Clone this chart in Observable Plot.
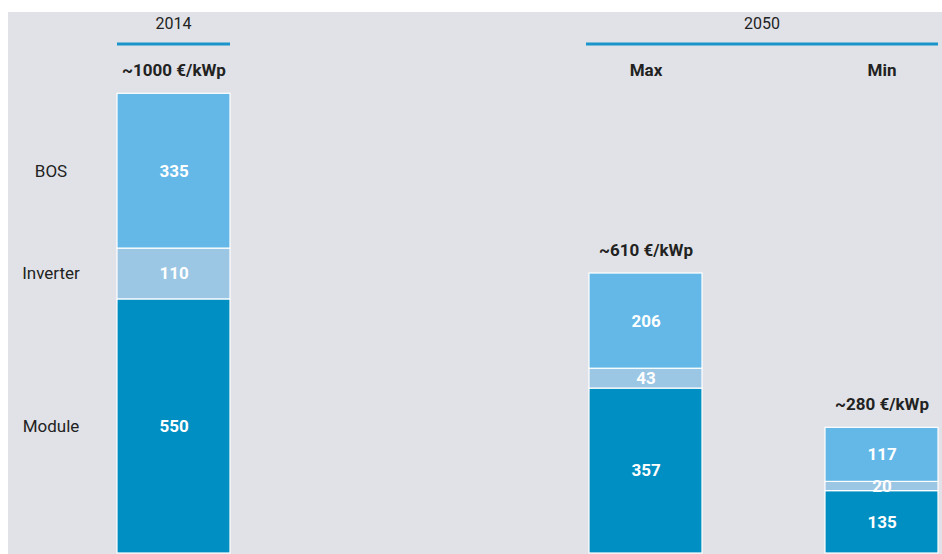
<!DOCTYPE html>
<html><head><meta charset="utf-8">
<script src="https://cdn.jsdelivr.net/npm/d3@7"></script>
<script src="https://cdn.jsdelivr.net/npm/@observablehq/plot@0.6"></script>
<style>
html,body{margin:0;padding:0;background:#fff;}
#chart{position:absolute;left:8px;top:12px;}
</style></head><body><div id="chart"></div>
<script>
const categories = ["2014", "", "Max", "Min"];
const barCategories = ["2014", "Max", "Min"];
const components = ["Module", "Inverter", "BOS"];
const moduleCost = [550, 357, 135];
const inverterCost = [110, 43, 20];
const bosCost = [335, 206, 117];
const totalLabels = ["~1000 €/kWp", "~610 €/kWp", "~280 €/kWp"];
const groupLabels = ["2014", "2050"];
const groupFrom = ["2014", "Max"];
const groupTo = ["2014", "Min"];
const subLabels = ["Max", "Min"];
const colors = ["#008fc3", "#9bc6e4", "#63b8e8"];

const series = [moduleCost, inverterCost, bosCost];
const data = barCategories.flatMap((cat, i) =>
  components.map((comp, j) => ({cat, comp, value: series[j][i]})));
const totals = barCategories.map((cat, i) => ({
  cat, total: moduleCost[i] + inverterCost[i] + bosCost[i], label: totalLabels[i]}));
const groups = groupLabels.map((label, i) => ({label, from: groupFrom[i], to: groupTo[i]}));
const subs = subLabels.map(cat => ({cat}));

const font = "Roboto, 'Open Sans', sans-serif";

const headerMark = (index, scales, values, dimensions) => {
  const x = scales.x, bw = x.bandwidth();
  const g = d3.create("svg:g");
  for (const h of groups) {
    const x1 = x(h.from) - (h.from === h.to ? 0 : 3), x2 = x(h.to) + bw;
    g.append("line").attr("x1", x1).attr("x2", x2).attr("y1", 32).attr("y2", 32)
      .attr("stroke", "#1a95cc").attr("stroke-width", 3);
    g.append("text").attr("x", (x1 + x2) / 2).attr("y", 11).attr("dy", "0.35em")
      .attr("text-anchor", "middle").attr("fill", "#222")
      .attr("font-family", font).attr("font-size", 16).text(h.label);
  }
  return g.node();
};

const chart = Plot.plot({
  width: 934,
  height: 542,
  marginLeft: 109,
  marginRight: 4,
  marginTop: 79,
  marginBottom: 1,
  style: {background: "#e1e2e7", fontFamily: font, fontSize: "17px", overflow: "visible"},
  x: {domain: categories, paddingInner: 0.522, paddingOuter: 0, axis: null},
  y: {domain: [0, 1000], axis: null},
  color: {domain: components, range: colors},
  marks: [
    Plot.barY(data, {x: "cat", y: "value", fill: "comp", stroke: "white", strokeWidth: 1.2}),
    Plot.text(data, Plot.stackY({x: "cat", y: "value", text: d => String(d.value),
      fill: "white", fontWeight: "bold", fontSize: 17})),
    Plot.text(data.filter(d => d.cat === "2014"), Plot.stackY({x: "cat", y: "value", text: "comp",
      fill: "#222", dx: -123, fontSize: 17})),
    Plot.text(totals, {x: "cat", y: "total", text: "label", dy: -23, fill: "#222",
      fontWeight: "bold", fontSize: 17}),
    Plot.text(subs, {x: "cat", text: "cat", frameAnchor: "top", lineAnchor: "middle", dy: -21, fill: "#222",
      fontWeight: "bold", fontSize: 17}),
    headerMark
  ]
});
document.getElementById("chart").append(chart);
</script></body></html>
